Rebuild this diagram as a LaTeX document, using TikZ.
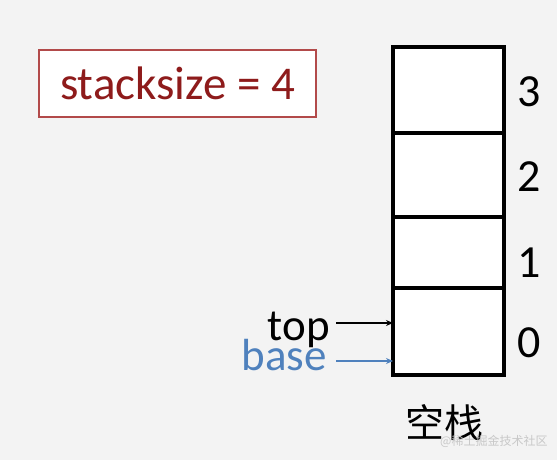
\documentclass[tikz,border=0pt]{standalone}
\usepackage{fontspec}
\setmainfont{Carlito}
\newfontfamily\cjk{Noto Sans CJK SC}
\usetikzlibrary{arrows.meta}
\definecolor{bg}{HTML}{F3F3F3}
\definecolor{redtxt}{HTML}{8E1B1B}
\definecolor{redbox}{HTML}{B24A4A}
\definecolor{bluetxt}{HTML}{4F81BD}
\definecolor{wm}{HTML}{C8C8C8}
\begin{document}
\begin{tikzpicture}[x=1pt,y=-1pt,
  cell/.style={draw=black,line width=4pt,fill=white,minimum width=111pt,inner sep=0pt},
  idx/.style={font=\fontsize{46}{46}\selectfont,anchor=center,inner sep=0pt},
  lab/.style={font=\fontsize{45}{45}\selectfont,anchor=base east,inner sep=0pt},
  ptr/.style={-{Stealth[length=7pt,width=6pt]},line width=1.6pt}]
\fill[bg] (0,0) rectangle (557,460);
\useasboundingbox (0,0) rectangle (557,460);
\node[draw=redbox,line width=2pt,fill=white,minimum width=277pt,minimum height=67pt,inner sep=0pt,
  text=redtxt,font=\fontsize{47}{47}\selectfont] (ss) at (177.5,83.5) {stacksize = 4};
\node[cell,minimum height=86pt] (c3) at (448.5,90) {};
\node[cell,minimum height=84pt] (c2) at (448.5,175) {};
\node[cell,minimum height=71pt] (c1) at (448.5,252.5) {};
\node[cell,minimum height=87pt] (c0) at (448.5,331.5) {};
\node[idx] (n3) at (529,92) {3};
\node[idx] (n2) at (529,177) {2};
\node[idx] (n1) at (529,263) {1};
\node[idx] (n0) at (529,343) {0};
\node[lab] (top) at (330,340) {top};
\node[lab,text=bluetxt] (base) at (327,370) {base};
\coordinate (ta) at (393,323);
\coordinate (ba) at (393,361);
\coordinate (ts) at (336,323);
\coordinate (bs) at (336,361);
\draw[ptr] (ts) -- (ta);
\draw[ptr,bluetxt] (bs) -- (ba);
\node[font=\cjk\fontsize{39}{39}\selectfont,inner sep=0pt] (lbl) at (444,423) {空栈};
\node[font=\cjk\fontsize{12}{12}\selectfont,text=wm,anchor=west,inner sep=0pt] (wmk) at (440,441) {@稀土掘金技术社区};
\end{tikzpicture}
\end{document}
